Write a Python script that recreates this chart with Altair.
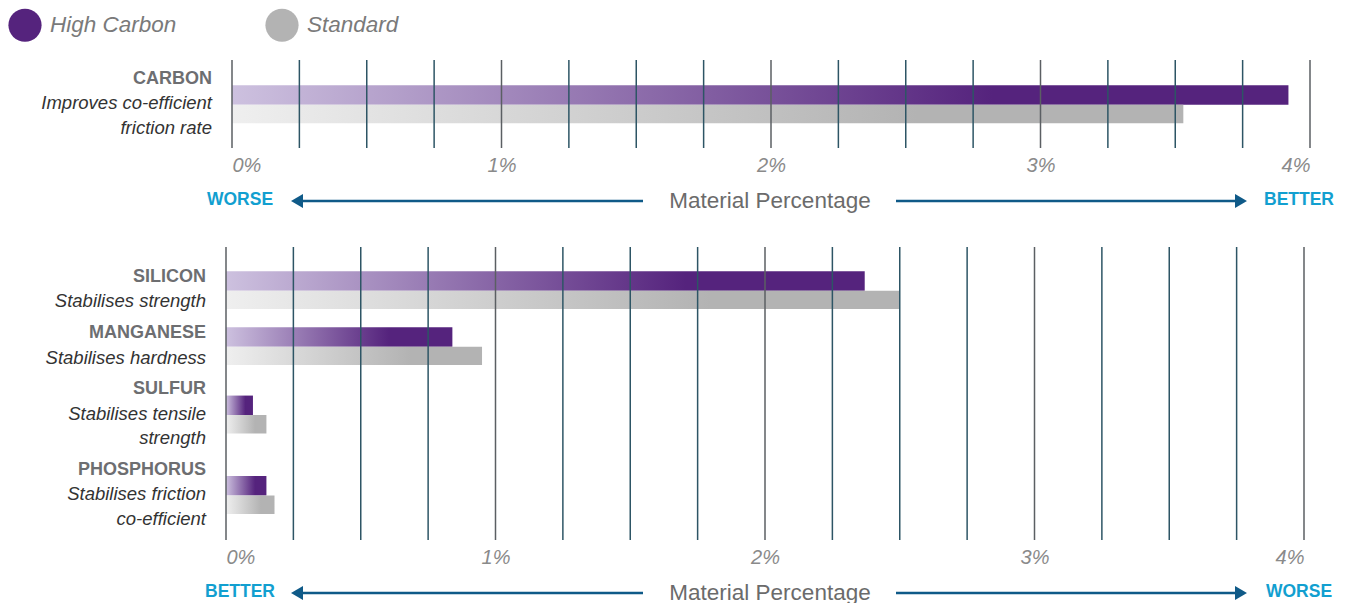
import altair as alt
import pandas as pd

FONT = "Liberation Sans"

# ---------------- data ----------------
series = ["High Carbon", "Standard"]
series_colors = ["#55237d", "#b3b3b3"]

top_elements = ["CARBON"]
top_notes = [["Improves co-efficient", "friction rate"]]
top_high_carbon = [3.92]
top_standard = [3.53]

bottom_elements = ["SILICON", "MANGANESE", "SULFUR", "PHOSPHORUS"]
bottom_notes = [["Stabilises strength"], ["Stabilises hardness"],
                ["Stabilises tensile", "strength"], ["Stabilises friction", "co-efficient"]]
bottom_high_carbon = [2.37, 0.84, 0.10, 0.15]
bottom_standard = [2.50, 0.95, 0.15, 0.18]

grid_values = [0, 0.25, 0.5, 0.75, 1, 1.25, 1.5, 1.75, 2, 2.25, 2.5, 2.75, 3, 3.25, 3.5, 3.75, 4]
tick_values = [0, 1, 2, 3, 4]
axis_title = "Material Percentage"
top_directions = ["WORSE", "BETTER"]
bottom_directions = ["BETTER", "WORSE"]

# ---------------- styles ----------------
PLOT_W = 1078
ORIGIN = 226          # page x of the shared panel origin
GROUP_GAP = 0.3
BAR_SHIFT = 0.06

hc_gradient = alt.Gradient(
    gradient="linear",
    stops=[alt.GradientStop(color="#cdc1df", offset=0),
           alt.GradientStop(color="#55237d", offset=0.72),
           alt.GradientStop(color="#55237d", offset=1)],
    x1=0, x2=1, y1=0, y2=0)
std_gradient = alt.Gradient(
    gradient="linear",
    stops=[alt.GradientStop(color="#efefef", offset=0),
           alt.GradientStop(color="#b3b3b3", offset=0.72),
           alt.GradientStop(color="#b3b3b3", offset=1)],
    x1=0, x2=1, y1=0, y2=0)


def build_frames(elements, notes, hc, std):
    lines, bars = [], []
    pos = 0.0
    for el, nt, h, s in zip(elements, notes, hc, std):
        rows = [el] + list(nt)
        ys = []
        for j, t in enumerate(rows):
            lines.append({"text": t, "line": pos, "kind": "name" if j == 0 else "note"})
            ys.append(pos)
            pos += 1
        c = sum(ys) / len(ys) + BAR_SHIFT
        bars.append({"element": el, "series": series[0], "start": 0, "value": h, "y0": c - 0.8, "y1": c})
        bars.append({"element": el, "series": series[1], "start": 0, "value": s, "y0": c, "y1": c + 0.75})
        pos += GROUP_GAP
    return pd.DataFrame(lines), pd.DataFrame(bars)


x_axis = alt.Axis(values=tick_values, labelExpr="datum.value + '%'", grid=False, ticks=False,
                  domain=False, title=None, labelFontStyle="italic", labelFontSize=20,
                  labelColor="#8a8a8a", labelFont=FONT, labelPadding=7)


def panel(elements, notes, hc, std, height, ydomain, directions, offset, with_legend=False):
    lines_df, bars_df = build_frames(elements, notes, hc, std)
    x_scale = alt.Scale(domain=[0, 4], nice=False, zero=False, range=[offset, offset + PLOT_W])
    y_scale = alt.Scale(domain=ydomain, reverse=True, nice=False, zero=False)

    hc_bar = alt.Chart(bars_df).transform_filter(alt.datum.series == series[0]).mark_bar(
        color=hc_gradient, cornerRadius=0).encode(
        x=alt.X("start:Q", scale=x_scale, axis=x_axis), x2="value:Q",
        y=alt.Y("y0:Q", scale=y_scale, axis=None), y2="y1:Q")
    std_bar = alt.Chart(bars_df).transform_filter(alt.datum.series == series[1]).mark_bar(
        color=std_gradient, cornerRadius=0).encode(
        x=alt.X("start:Q", scale=x_scale, axis=x_axis), x2="value:Q",
        y=alt.Y("y0:Q", scale=y_scale, axis=None), y2="y1:Q")

    grid_df = pd.DataFrame({"g": grid_values})
    grid = alt.Chart(grid_df).mark_rule(strokeWidth=1.5).encode(
        x=alt.X("g:Q", scale=x_scale, axis=x_axis),
        y=alt.value(0), y2=alt.value(height),
        color=alt.condition("datum.g % 1 == 0", alt.value("#5b5f63"), alt.value("#2d5565")))

    names = alt.Chart(lines_df).transform_filter(alt.datum.kind == "name").mark_text(
        align="right", baseline="middle", font=FONT, fontSize=18, fontWeight="bold",
        color="#6d6e71").encode(
        x=alt.value(offset - 20), y=alt.Y("line:Q", scale=y_scale, axis=None), text="text:N")
    notes_t = alt.Chart(lines_df).transform_filter(alt.datum.kind == "note").mark_text(
        align="right", baseline="middle", font=FONT, fontSize=18.5, fontStyle="italic",
        color="#333333").encode(
        x=alt.value(offset - 20), y=alt.Y("line:Q", scale=y_scale, axis=None), text="text:N")

    one = pd.DataFrame({"k": [0]})
    yd = height + 52
    arrow_color = "#0f5a88"
    dir_color = "#129fd0"
    left_word = alt.Chart(one).mark_text(text=directions[0], font=FONT, fontSize=17.5, fontWeight="bold",
                                         color=dir_color, align="center", baseline="middle").encode(
        x=alt.value(240 - ORIGIN), y=alt.value(yd))
    right_word = alt.Chart(one).mark_text(text=directions[1], font=FONT, fontSize=17.5, fontWeight="bold",
                                          color=dir_color, align="center", baseline="middle").encode(
        x=alt.value(1299 - ORIGIN), y=alt.value(yd))
    title = alt.Chart(one).mark_text(text=axis_title, font=FONT, fontSize=22.5, color="#6b6b6b",
                                     align="center", baseline="middle").encode(
        x=alt.value(770 - ORIGIN), y=alt.value(yd + 1))
    arrow_l = alt.Chart(one).mark_rule(strokeWidth=2.5, color=arrow_color).encode(
        x=alt.value(298 - ORIGIN), x2=alt.value(643 - ORIGIN), y=alt.value(yd + 1))
    arrow_r = alt.Chart(one).mark_rule(strokeWidth=2.5, color=arrow_color).encode(
        x=alt.value(896 - ORIGIN), x2=alt.value(1240 - ORIGIN), y=alt.value(yd + 1))
    head_l = alt.Chart(one).mark_point(shape="triangle-left", filled=True, size=190, opacity=1,
                                       color=arrow_color).encode(
        x=alt.value(297 - ORIGIN), y=alt.value(yd + 1))
    head_r = alt.Chart(one).mark_point(shape="triangle-right", filled=True, size=190, opacity=1,
                                       color=arrow_color).encode(
        x=alt.value(1241 - ORIGIN), y=alt.value(yd + 1))

    layers = [hc_bar, std_bar, grid, names, notes_t, left_word, title, right_word,
              arrow_l, arrow_r, head_l, head_r]
    if with_legend:
        leg_df = pd.DataFrame({"series": series})
        legend_layer = alt.Chart(leg_df).mark_circle(opacity=0).encode(
            x=alt.value(0), y=alt.value(0),
            color=alt.Color("series:N", scale=alt.Scale(domain=series, range=series_colors),
                            legend=alt.Legend(orient="none", legendX=8 - ORIGIN, legendY=-52,
                                              direction="horizontal", title=None,
                                              symbolType="circle", symbolSize=1100,
                                              symbolOpacity=1, symbolStrokeWidth=0,
                                              labelFontSize=22.5, labelFontStyle="italic",
                                              labelColor="#7a7a7a", labelFont=FONT,
                                              columnPadding=88, labelOffset=8)))
        layers.append(legend_layer)
    return alt.layer(*layers).properties(width=PLOT_W + offset, height=height)


top = panel(top_elements, top_notes, top_high_carbon, top_standard,
            88, [-0.78, 2.83], top_directions, 6, with_legend=True)
bottom = panel(bottom_elements, bottom_notes, bottom_high_carbon, bottom_standard,
               293, [-1.23, 10.78], bottom_directions, 0)

chart = alt.vconcat(top, bottom, spacing=33).properties(
    padding={"left": 0, "top": 0, "right": 0, "bottom": 0}
).configure_view(stroke=None).configure_concat(spacing=33)

chart.save("out.html", embed_options={"renderer": "svg", "actions": False})
